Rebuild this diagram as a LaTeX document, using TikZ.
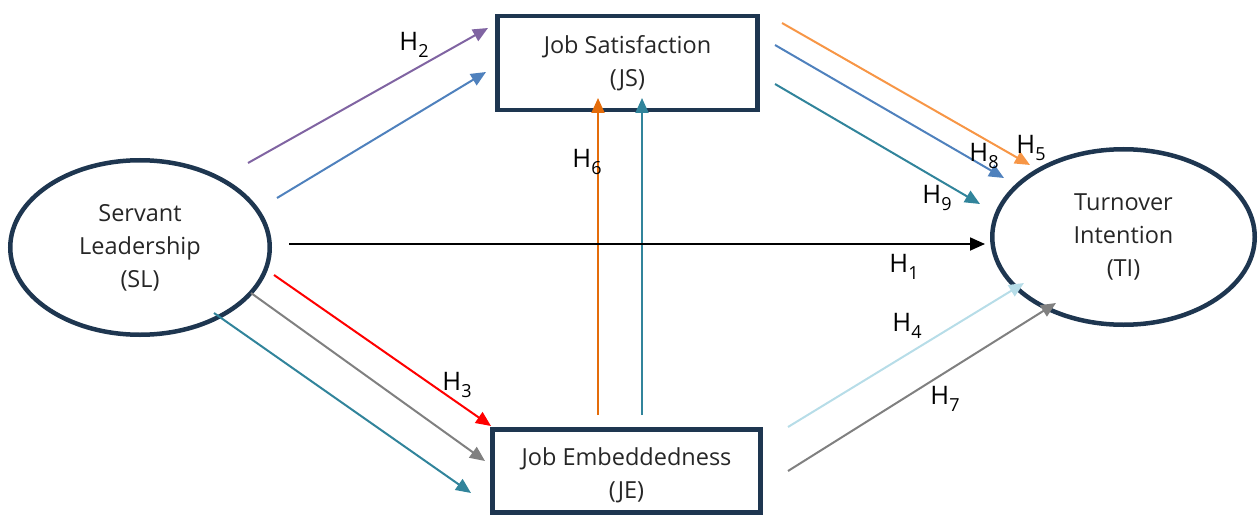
\documentclass[tikz,border=0pt]{standalone}
\usepackage{fontspec}
\setmainfont{Open Sans}
\usetikzlibrary{arrows.meta,shapes.geometric}
\definecolor{navy}{HTML}{1E3650}
\definecolor{cpurple}{HTML}{8064A2}
\definecolor{cblue}{HTML}{4F81BD}
\definecolor{corange}{HTML}{F79646}
\definecolor{cdorange}{HTML}{E46C0A}
\definecolor{cteal}{HTML}{31849B}
\definecolor{cred}{HTML}{FF0000}
\definecolor{cgray}{HTML}{808080}
\definecolor{clblue}{HTML}{B7DDE8}
\newcommand{\Hsub}[1]{H\raisebox{-0.25em}{\fontsize{18}{18}\selectfont #1}}
\begin{document}
\begin{tikzpicture}[x=1pt,y=-1pt,
  every node/.style={font=\fontsize{23.5}{33}\selectfont, text=black!85},
  oval/.style={ellipse, draw=navy, line width=4.5pt, align=center, inner sep=0pt},
  boxnode/.style={rectangle, draw=navy, line width=4.5pt, align=center, inner sep=0pt},
  arr/.style={-{Triangle[length=15pt,width=13pt]}, line width=2pt},
  hlab/.style={font=\fontsize{25.5}{25.5}\selectfont, inner sep=0pt, text=black}]
\useasboundingbox (0,0) rectangle (1258,516);

\node[oval, minimum width=259.5pt, minimum height=174.5pt] (SL) at (140,247.5) {Servant\\Leadership\\(SL)};
\node[oval, minimum width=262.5pt, minimum height=175.5pt] (TI) at (1123.5,237) {Turnover\\Intention\\(TI)};
\node[boxnode, minimum width=260pt, minimum height=94pt] (JS) at (627.5,63) {Job Satisfaction\\(JS)};
\node[boxnode, minimum width=268pt, minimum height=83pt] (JE) at (626.5,471) {\rule{0pt}{14pt}\\[-20pt]Job Embeddedness\\(JE)};

% coordinates
\coordinate (a1) at (248,163); \coordinate (b1) at (488,28);
\coordinate (a2) at (277,198); \coordinate (b2) at (486,72);
\coordinate (a3) at (598,415); \coordinate (b3) at (598,98);
\coordinate (a4) at (642,415); \coordinate (b4) at (642,98);
\coordinate (a5) at (289,244); \coordinate (b5) at (985,244);
\coordinate (a6) at (782,23);  \coordinate (b6) at (1030,165);
\coordinate (a7) at (775,45);  \coordinate (b7) at (1004,178);
\coordinate (a8) at (775,84);  \coordinate (b8) at (980,204);
\coordinate (a9) at (274,275); \coordinate (b9) at (491,426);
\coordinate (a10) at (251,293); \coordinate (b10) at (485,461);
\coordinate (a11) at (214,313); \coordinate (b11) at (471,493);
\coordinate (a12) at (788,427); \coordinate (b12) at (1024,283);
\coordinate (a13) at (788,471); \coordinate (b13) at (1056,303);

\draw[arr, cpurple] (a1) -- (b1);
\draw[arr, cblue] (a2) -- (b2);
\draw[arr, cdorange] (a3) -- (b3);
\draw[arr, cteal] (a4) -- (b4);
\draw[arr, black, line width=1.8pt] (a5) -- (b5);
\draw[arr, corange] (a6) -- (b6);
\draw[arr, cblue] (a7) -- (b7);
\draw[arr, cteal] (a8) -- (b8);
\draw[arr, cred] (a9) -- (b9);
\draw[arr, cgray] (a10) -- (b10);
\draw[arr, cteal] (a11) -- (b11);
\draw[arr, clblue] (a12) -- (b12);
\draw[arr, cgray] (a13) -- (b13);

\node[hlab] (h2) at (414,45) {\Hsub{2}};
\node[hlab] (h6) at (587,162) {\Hsub{6}};
\node[hlab] (h1) at (904,267) {\Hsub{1}};
\node[hlab] (h5) at (1031,148) {\Hsub{5}};
\node[hlab] (h8) at (984,156) {\Hsub{8}};
\node[hlab] (h9) at (937,198) {\Hsub{9}};
\node[hlab] (h3) at (457,385) {\Hsub{3}};
\node[hlab] (h4) at (907,326) {\Hsub{4}};
\node[hlab] (h7) at (945,399) {\Hsub{7}};
\end{tikzpicture}
\end{document}
